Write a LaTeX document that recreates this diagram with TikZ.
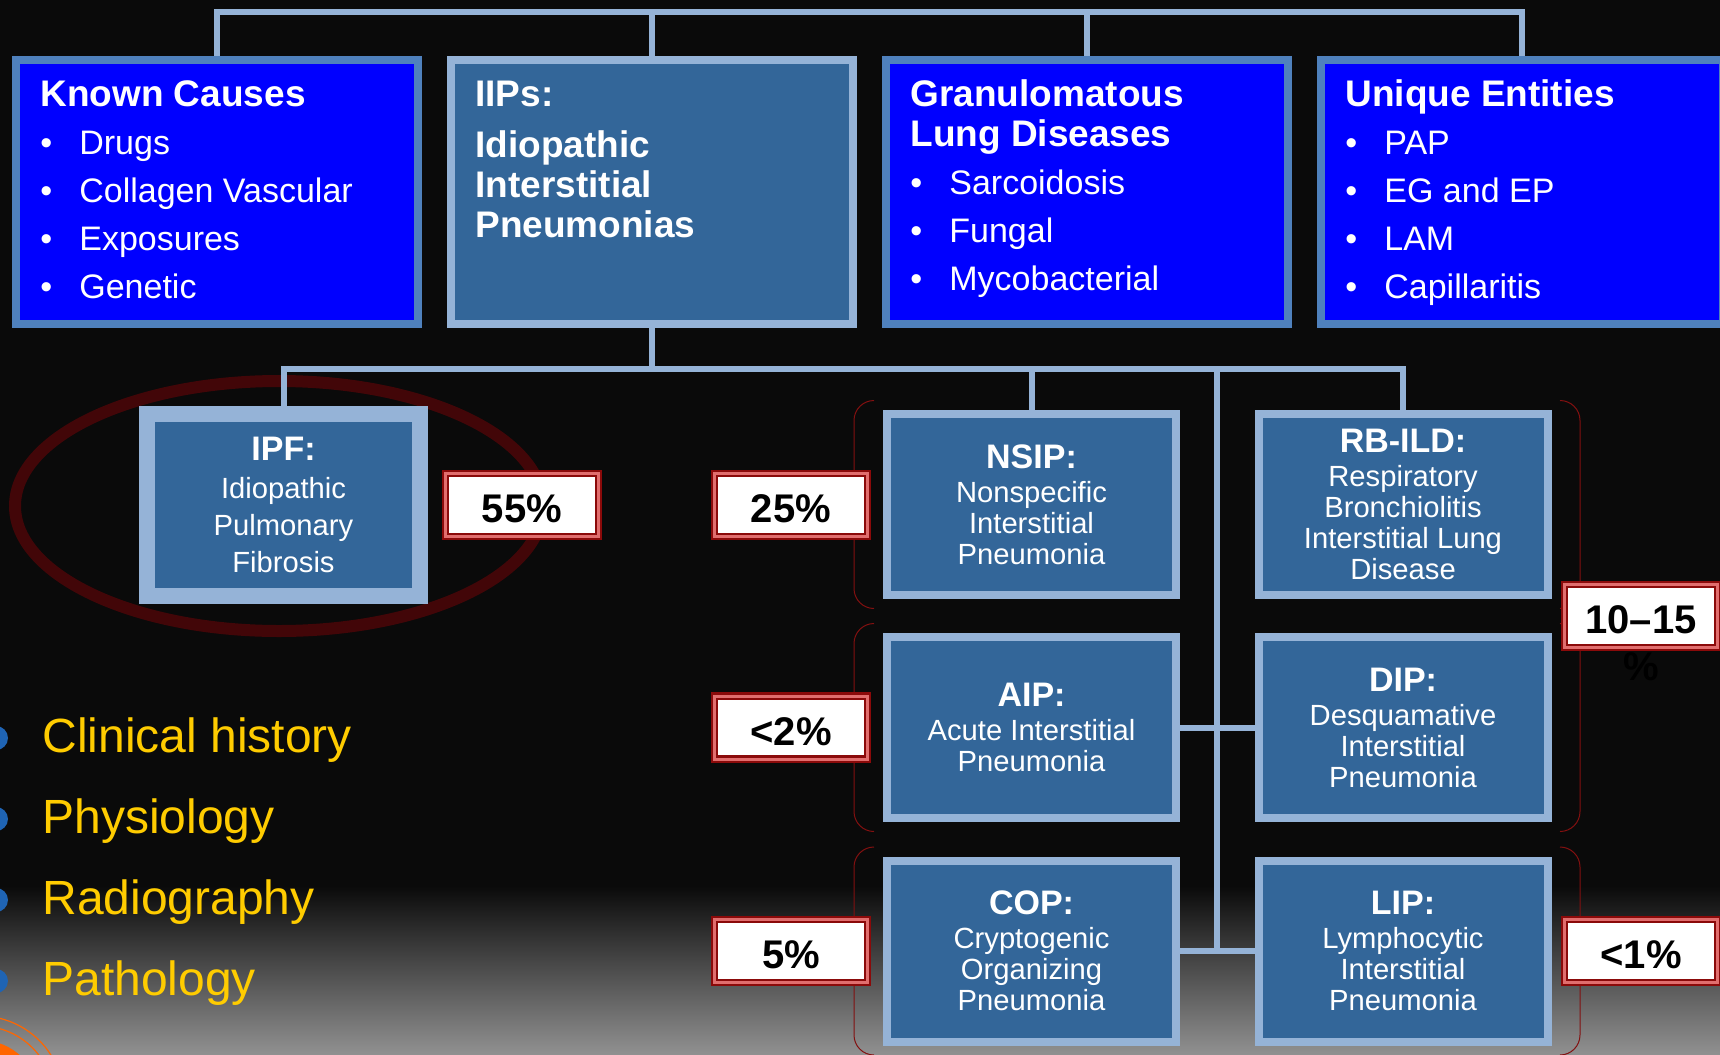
\documentclass[tikz,border=0pt]{standalone}
\usepackage{fontspec}
\setmainfont{Liberation Sans}
\usetikzlibrary{positioning}

\definecolor{pureblue}{RGB}{0,0,255}
\definecolor{midblue}{RGB}{79,129,189}
\definecolor{paleblue}{RGB}{149,179,215}
\definecolor{iipblue}{RGB}{51,102,153}
\definecolor{pctdark}{RGB}{139,10,10}
\definecolor{pctlight}{RGB}{225,110,110}
\definecolor{ringred}{RGB}{66,6,8}
\definecolor{bracered}{RGB}{130,16,16}
\definecolor{cluegold}{RGB}{255,204,0}
\definecolor{dotblue}{RGB}{31,100,180}
\definecolor{slidebg}{RGB}{10,10,10}
\definecolor{slidegray}{RGB}{145,145,145}
\definecolor{decoorange}{RGB}{255,102,0}

\newcommand{\itemdot}{\makebox[19.5pt][l]{•}}
\newcommand{\ildtitle}[1]{{\fontsize{17}{18}\selectfont\bfseries #1}}

\pgfdeclarelayer{backdrop}
\pgfdeclarelayer{links}
\pgfsetlayers{backdrop,links,main}

\tikzset{
  conn/.style={draw=paleblue, line width=3pt},
  causebox/.style={draw=midblue, line width=4pt, fill=pureblue, minimum width=201pt, minimum height=132pt, inner sep=0pt},
  iipbox/.style={causebox, draw=paleblue, fill=iipblue},
  head/.style={anchor=base west, inner sep=0pt, text=white, font=\fontsize{18.5}{20}\selectfont\bfseries},
  entry/.style={anchor=base west, inner sep=0pt, text=white, font=\fontsize{17}{19}\selectfont},
  ild/.style={draw=paleblue, line width=4pt, fill=iipblue, minimum width=144.5pt, minimum height=90.5pt, inner sep=0pt, align=center, text=white, font=\fontsize{14.6}{15.5}\selectfont},
  ipfbox/.style={ild, line width=8pt, minimum width=136.5pt, minimum height=91pt, font=\fontsize{14.6}{18.5}\selectfont},
  pct/.style={draw=pctdark, double=pctlight, double distance=1.5pt, line width=1.2pt, fill=white, minimum width=76.5pt, minimum height=31.5pt, inner sep=0pt, text height=17.5pt, text depth=0pt, text=black, font=\fontsize{20}{24}\selectfont\bfseries},
  pctsign/.style={inner sep=0pt, text=black, font=\fontsize{20}{24}\selectfont\bfseries},
  clue/.style={anchor=base west, inner sep=0pt, text=cluegold, font=\fontsize{24}{28}\selectfont},
  brace/.style={draw=bracered, line width=0.5pt, rounded corners=10pt},
  ring/.style={draw=ringred, line width=6pt}
}

\begin{document}
\begin{tikzpicture}[x=0.5pt,y=-0.5pt]
\useasboundingbox (0,0) rectangle (1720,1055);

% slide background
\begin{pgfonlayer}{backdrop}
  \fill[slidebg] (0,0) rectangle (1720,1055);
  \shade[top color=slidebg, bottom color=slidegray] (0,886) rectangle (1720,1055);
  \draw[ring] (279,506) ellipse [x radius=132pt, y radius=62.5pt];
  \begin{scope}
    \clip (0,0) rectangle (1720,1055);
    \fill[decoorange] (-20,1100) circle (30pt);
    \draw[decoorange, line width=0.6pt] (-20,1100) circle (37pt);
    \draw[decoorange, line width=0.6pt] (-20,1100) circle (42pt);
  \end{scope}
\end{pgfonlayer}

% top row
\node[causebox] (known) at (216.5,192) {};
\node[iipbox] (iips) at (652,192) {};
\node[causebox] (gran) at (1087,192) {};
\node[causebox] (unique) at (1522,192) {};

\node[head] (knownhead) at (40,106) {Known Causes};
\foreach \txt [count=\i] in {Drugs,Collagen Vascular,Exposures,Genetic}
  \node[entry] (known\i) at (40,106+48*\i) {\itemdot\txt};

\node[head] (iipshead) at (475,106) {IIPs:};
\foreach \txt [count=\i] in {Idiopathic,Interstitial,Pneumonias}
  \node[head] (iips\i) at (475,117+40*\i) {\txt};

\node[head] (granhead) at (910,106) {Granulomatous};
\node[head] (granhead2) at (910,146) {Lung Diseases};
\foreach \txt [count=\i] in {Sarcoidosis,Fungal,Mycobacterial}
  \node[entry] (gran\i) at (910,146+48*\i) {\itemdot\txt};

\node[head] (uniquehead) at (1345,106) {Unique Entities};
\foreach \txt [count=\i] in {PAP,EG and EP,LAM,Capillaritis}
  \node[entry] (unique\i) at (1345,106+48*\i) {\itemdot\txt};

% brackets round the percentages
\foreach \y in {504.5,727.5,951} {
  \draw[brace] (874,\y-104) -- (854,\y-104) -- (854,\y+104) -- (874,\y+104);
  \draw[brace] (1560,\y-104) -- (1580,\y-104) -- (1580,\y+104) -- (1560,\y+104);
}

% IIP subtypes
\node[ipfbox] (ipf) at (283.5,505) {\ildtitle{IPF:}\\[0.5pt]Idiopathic\\Pulmonary\\Fibrosis};
\node[ild] (nsip) at (1031.5,504.5) {\ildtitle{NSIP:}\\[1.5pt]Nonspecific\\Interstitial\\Pneumonia};
\node[ild] (rbild) at (1403,504.5) {\ildtitle{RB-ILD:}\\[1.5pt]Respiratory\\Bronchiolitis\\Interstitial Lung\\Disease};
\node[ild] (aip) at (1031.5,727.5) {\ildtitle{AIP:}\\[1.5pt]Acute Interstitial\\Pneumonia};
\node[ild] (dip) at (1403,727.5) {\ildtitle{DIP:}\\[1.5pt]Desquamative\\Interstitial\\Pneumonia};
\node[ild] (cop) at (1031.5,951) {\ildtitle{COP:}\\[1.5pt]Cryptogenic\\Organizing\\Pneumonia};
\node[ild] (lip) at (1403,951) {\ildtitle{LIP:}\\[1.5pt]Lymphocytic\\Interstitial\\Pneumonia};

% percentages
\node[pct] (p55) at (522,505) {55\%};
\node[pct] (p25) at (791,505) {25\%};
\node[pct] (p2) at (791,727.5) {<2\%};
\node[pct] (p5) at (791,951) {5\%};
\node[pct] (p1015) at (1641,616) {10–15};
\node[pctsign, below=2pt of p1015] (p1015sign) {\%};
\node[pct] (p1) at (1641,951) {<1\%};

% diagnostic inputs
\foreach \txt [count=\i] in {Clinical history,Physiology,Radiography,Pathology} {
  \fill[dotblue] (-4,657+81*\i) circle (6pt);
  \node[clue] (clue\i) at (42,671+81*\i) {\txt};
}

% connectors
\begin{pgfonlayer}{links}
  \coordinate (topbar) at (652,12);
  \draw[conn] (known.north) |- (topbar) -| (unique.north);
  \draw[conn] (iips.north) -- (iips.north |- topbar);
  \draw[conn] (gran.north) -- (gran.north |- topbar);
  \coordinate (midbar) at (652,369);
  \draw[conn] (iips.south) -- (midbar);
  \draw[conn] (ipf.north) |- (midbar) -| (rbild.north);
  \draw[conn] (nsip.north) -- (nsip.north |- midbar);
  \coordinate (trunk) at (1217,369);
  \draw[conn] (trunk) -- (trunk |- cop.east);
  \draw[conn] (aip.east) -- (dip.west);
  \draw[conn] (cop.east) -- (lip.west);
\end{pgfonlayer}
\end{tikzpicture}
\end{document}
